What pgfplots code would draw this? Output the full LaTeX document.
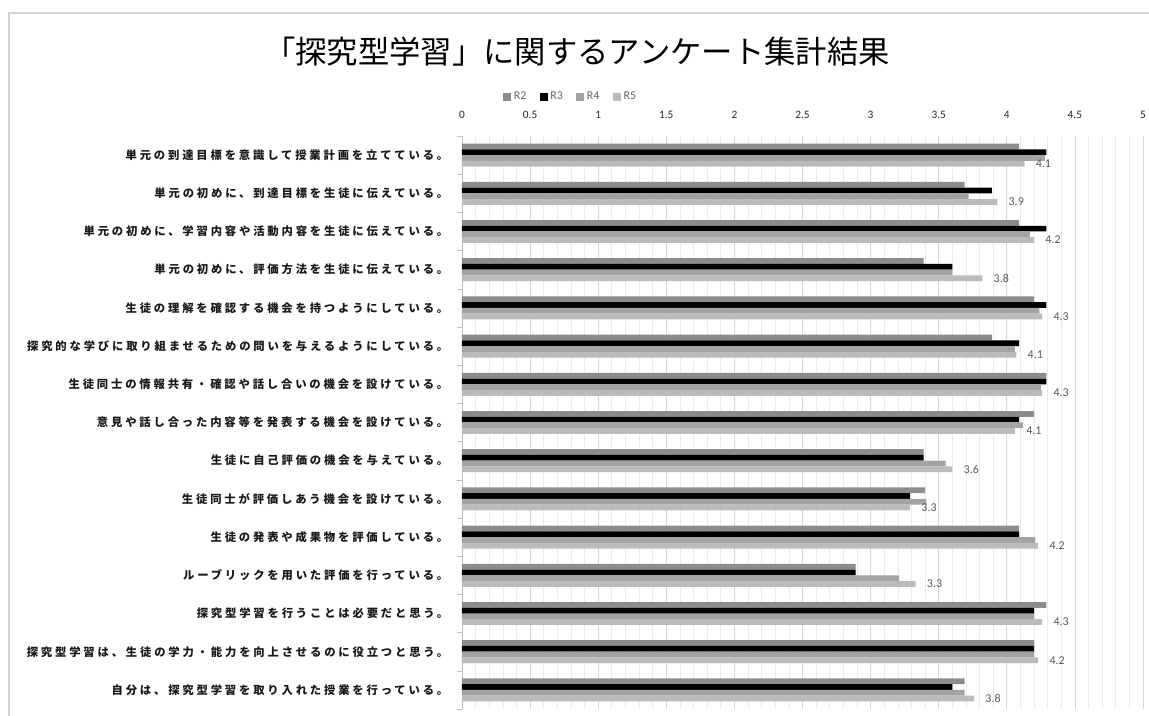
\documentclass[border=0pt]{standalone}
\usepackage{pgfplots}
\pgfplotsset{compat=1.18}
\usepackage{pgfplotstable}
\usepackage{fontspec}
\setmainfont{Carlito}
\newfontfamily\cjk{Noto Sans CJK JP}
\newfontfamily\cjklab[LetterSpace=25]{Noto Sans CJK JP}
\definecolor{cR2}{HTML}{8C8C8C}
\definecolor{cR3}{HTML}{000000}
\definecolor{cR4}{HTML}{A3A3A3}
\definecolor{cR5}{HTML}{BBBBBB}
\pgfplotstableread{
c R2 R3 R4 R5
0 4.09 4.29 4.28 4.13
1 3.69 3.89 3.72 3.93
2 4.09 4.29 4.17 4.20
3 3.39 3.60 3.60 3.82
4 4.20 4.29 4.24 4.26
5 3.89 4.09 4.06 4.07
6 4.29 4.29 4.25 4.26
7 4.20 4.09 4.12 4.06
8 3.39 3.39 3.55 3.60
9 3.40 3.29 3.41 3.29
10 4.09 4.09 4.21 4.23
11 2.89 2.89 3.21 3.33
12 4.29 4.20 4.20 4.26
13 4.20 4.20 4.20 4.23
14 3.69 3.60 3.69 3.76
}\datatable
\begin{document}
\begin{tikzpicture}
\useasboundingbox (0,0) rectangle (861.75pt,537pt);
\draw[black!18, line width=0.8pt] (6.75pt,-2pt) -- (6.75pt,527.25pt) -- (870pt,527.25pt);
\node[font=\cjk\fontsize{23.5pt}{28pt}\selectfont, text=black] at (432.75pt,498pt) {「探究型学習」に関するアンケート集計結果};
\begin{axis}[
  at={(346.5pt,5.25pt)}, anchor=south west,
  scale only axis, width=510.75pt, height=429.75pt,
  xbar, bar width=4.3pt,
  xmin=0, xmax=5, ymin=-0.5, ymax=14.5, y dir=reverse,
  /pgf/number format/assume math mode=true,
  axis x line*=top, axis y line*=left,
  x axis line style={draw=none},
  y axis line style={draw=black!25},
  xtick={0,0.5,...,5}, minor x tick num=4,
  xmajorgrids, xminorgrids,
  major grid style={draw=black!16, line width=0.6pt},
  minor grid style={draw=black!8, line width=0.5pt},
  x tick style={draw=none},
  xticklabel style={font=\fontsize{8.5pt}{9pt}\selectfont, text=black!85, yshift=5pt},
  ytick={0,...,14},
  major y tick style={draw=none},
  minor ytick={-0.5,0.5,...,14.5},
  minor y tick style={draw=black!25},
  minor tick length=4pt, tick align=outside,
  yticklabels={
    単元の到達目標を意識して授業計画を立てている。,
    単元の初めに、到達目標を生徒に伝えている。,
    単元の初めに、学習内容や活動内容を生徒に伝えている。,
    単元の初めに、評価方法を生徒に伝えている。,
    生徒の理解を確認する機会を持つようにしている。,
    探究的な学びに取り組ませるための問いを与えるようにしている。,
    生徒同士の情報共有・確認や話し合いの機会を設けている。,
    意見や話し合った内容等を発表する機会を設けている。,
    生徒に自己評価の機会を与えている。,
    生徒同士が評価しあう機会を設けている。,
    生徒の発表や成果物を評価している。,
    ルーブリックを用いた評価を行っている。,
    探究型学習を行うことは必要だと思う。,
    探究型学習は、生徒の学力・能力を向上させるのに役立つと思う。,
    自分は、探究型学習を取り入れた授業を行っている。},
  yticklabel style={font=\cjklab\bfseries\fontsize{8.5pt}{10pt}\selectfont, text=black!90, anchor=east, xshift=-2.5pt},
  legend columns=4,
  legend style={at={(0.16,1.068)}, anchor=center, draw=none, fill=none,
    font=\fontsize{9pt}{10pt}\selectfont, text=black!60,
    /tikz/every even column/.append style={column sep=8pt}},
  legend image code/.code={\fill[#1] (0pt,-3pt) rectangle (6pt,3pt);},
]
\addplot[fill=cR2, draw=none, bar shift=6.45pt] table[x=R2, y=c] {\datatable};
\addplot[fill=cR3, draw=none, bar shift=2.15pt] table[x=R3, y=c] {\datatable};
\addplot[fill=cR4, draw=none, bar shift=-2.15pt] table[x=R4, y=c] {\datatable};
\addplot[fill=cR5, draw=none, bar shift=-6.45pt,
  nodes near coords,
  nodes near coords style={anchor=west, xshift=5pt, font=\fontsize{9pt}{10pt}\selectfont, text=black!65,
    /pgf/number format/fixed, /pgf/number format/precision=1,
    /pgf/number format/assume math mode=true}
  ] table[x=R5, y=c] {\datatable};
\legend{R2,R3,R4,R5}
\end{axis}
\end{tikzpicture}
\end{document}
